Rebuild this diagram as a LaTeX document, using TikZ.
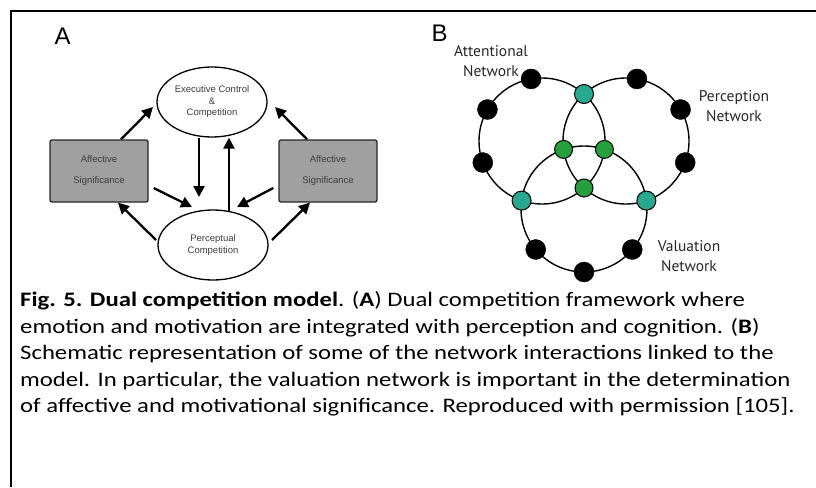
\documentclass[tikz,border=0pt]{standalone}
\usepackage{fontspec}
\setmainfont{Carlito}
\newfontfamily\capf[FakeStretch=1.2]{Carlito}
\newfontfamily\arialf{Liberation Sans}
\newfontfamily\netf{PT Sans}
\usetikzlibrary{shapes.geometric,arrows.meta,calc}
\definecolor{tealn}{RGB}{40,168,142}
\definecolor{greenn}{RGB}{36,160,60}
\definecolor{boxfill}{RGB}{160,160,160}
\definecolor{txtgray}{RGB}{60,60,60}
\begin{document}
\begin{tikzpicture}[x=1pt,y=-1pt,
  ell/.style={ellipse,draw=black,line width=1.3pt,minimum width=110pt,minimum height=70pt,inner sep=0pt,
    font=\arialf\fontsize{9.5}{12.5}\selectfont,text=txtgray,align=center},
  abox/.style={rectangle,draw=black!85,line width=1.3pt,fill=boxfill,rounded corners=2pt,minimum width=98pt,minimum height=62pt,
    font=\arialf\fontsize{9.5}{21}\selectfont,text=txtgray,align=center},
  arr/.style={line width=2.3pt,-{Triangle[length=11pt,width=11pt]}},
  ring/.style={line width=1.4pt},
  blk/.style={circle,fill=black,draw=black,minimum size=20pt,inner sep=0pt},
  tln/.style={circle,fill=tealn,draw=black,line width=1pt,minimum size=19pt,inner sep=0pt},
  grn/.style={circle,fill=greenn,draw=black,line width=1pt,minimum size=18pt,inner sep=0pt},
  netlab/.style={font=\netf\fontsize{15.5}{20}\selectfont,align=center,text=black!85},
  panlab/.style={font=\arialf\fontsize{24}{24}\selectfont,anchor=base west},
  captxt/.style={anchor=base west,font=\capf\fontsize{20.6}{24}\selectfont,inner sep=0pt}
]
\useasboundingbox (0,0) rectangle (816,487);
% frame
\draw[line width=2pt] (11,487) -- (11,11) -- (816,11);

% Panel A
\node[panlab] (labA) at (51,45) {A};
\node[ell] (exec) at (212,102) {Executive Control\\[-1pt]\&\\[-1pt]Competition};
\node[ell] (perc) at (213,245) {Perceptual\\Competition};
\node[abox] (lbox) at (99,171) {Affective\\Significance};
\node[abox] (rbox) at (328,171) {Affective\\Significance};

\draw[arr] ([xshift=22pt]lbox.north) -- ([shift={(-59,5)}]exec.center);
\draw[arr] ([xshift=-21pt]rbox.north) -- ([shift={(63,5)}]exec.center);
\draw[arr] ([xshift=-13pt]exec.south) -- ([shift={(-14,-48)}]perc.center);
\draw[arr] ([shift={(16,-34)}]perc.center) -- ([xshift=17pt]exec.south);
\draw[arr] ([shift={(5,17)}]lbox.east) -- ([shift={(-21,-38)}]perc.center);
\draw[arr] ([shift={(-5,17)}]rbox.west) -- ([shift={(24,-38)}]perc.center);
\draw[arr] ([shift={(-57,-5)}]perc.center) -- ([xshift=19pt]lbox.south);
\draw[arr] ([shift={(59,-5)}]perc.center) -- ([xshift=-18pt]rbox.south);

% Panel B
\node[panlab] (labB) at (428,42) {B};
\coordinate (cA) at (542,141);
\coordinate (cP) at (626,141);
\coordinate (cV) at (584,209);
\draw[ring] (cA) circle[radius=63];
\draw[ring] (cP) circle[radius=63];
\draw[ring] (cV) circle[radius=63];

\node[blk] (a1) at ($(cA)+(-100:63)$) {};
\node[blk] (a2) at ($(cA)+(-150:63)$) {};
\node[blk] (a3) at ($(cA)+(-200:63)$) {};
\node[blk] (p1) at ($(cP)+(-80:63)$) {};
\node[blk] (p2) at ($(cP)+(-30:63)$) {};
\node[blk] (p3) at ($(cP)+(20:63)$) {};
\node[blk] (v1) at ($(cV)+(140:63)$) {};
\node[blk] (v2) at ($(cV)+(90:63)$) {};
\node[blk] (v3) at ($(cV)+(40:63)$) {};

\node[tln] (tAP) at (584,94) {};
\node[tln] (tAV) at (521.6,200.6) {};
\node[tln] (tPV) at (646.4,200.6) {};
\node[grn] (gAP) at (584,188) {};
\node[grn] (gAV) at (604.4,149.4) {};
\node[grn] (gPV) at (563.6,149.4) {};

\node[netlab] (attl) at (491,61) {Attentional\\Network};
\node[netlab] (perl) at (734,106) {Perception\\Network};
\node[netlab] (vall) at (689,256) {Valuation\\Network};

% Caption
\node[captxt] (c1) at (20,306.5) {\textbf{Fig. 5. Dual competition model}. (\textbf{A}) Dual competition framework where};
\node[captxt] (c2) at (20,333) {emotion and motivation are integrated with perception and cognition. (\textbf{B})};
\node[captxt] (c3) at (20,359.5) {Schematic representation of some of the network interactions linked to the};
\node[captxt] (c4) at (20,386) {model. In particular, the valuation network is important in the determination};
\node[captxt] (c5) at (20,412.5) {of affective and motivational significance. Reproduced with permission [105].};
\end{tikzpicture}
\end{document}
